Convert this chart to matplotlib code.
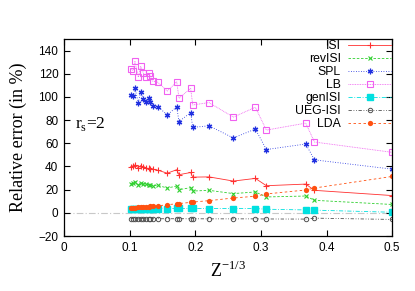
import matplotlib
matplotlib.use('Agg')
import matplotlib.pyplot as plt

# Z^-1/3 positions
x = [0.1017, 0.1056, 0.1082, 0.1133, 0.1169, 0.1209, 0.1245, 0.1300, 0.1315,
     0.1352, 0.1428, 0.1575, 0.1718, 0.1753, 0.1931, 0.1962, 0.2210, 0.2581,
     0.2916, 0.3084, 0.3684, 0.3816, 0.5]

isi = [39.4, 40.0, 41.4, 38.9, 40.8, 39.4, 38.5, 38.3, 38.0, 37.7, 36.8, 34.2,
       37.2, 32.9, 34.8, 30.8, 31.0, 27.4, 29.7, 23.4, 24.8, 19.4, 14.9]
rev_isi = [25.2, 25.5, 26.3, 24.3, 25.5, 25.0, 24.7, 24.1, 24.1, 23.5, 23.7, 21.4,
           23.1, 20.0, 21.7, 18.8, 19.4, 16.6, 18.0, 13.7, 14.5, 10.8, 7.2]
spl = [101.7, 100.8, 107.4, 95.1, 104.2, 98.5, 95.7, 98.9, 95.7, 92.0, 91.7, 84.5,
       91.4, 78.8, 86.5, 73.7, 75.1, 64.6, 72.3, 54.6, 59.4, 45.7, 37.7]
lb = [124.0, 122.8, 130.6, 117.1, 126.5, 120.8, 117.4, 120.8, 117.7, 113.7, 112.8,
      105.1, 113.1, 98.9, 107.4, 93.1, 95.1, 82.6, 91.1, 71.4, 77.4, 61.1, 52.2]
gen_isi = [3.4, 3.4, 3.5, 3.5, 3.5, 3.6, 3.6, 3.6, 3.6, 3.7, 3.7, 3.7, 3.8, 3.8,
           3.8, 3.8, 3.7, 3.7, 3.7, 3.1, 2.5, 2.3, 0.5]
ueg_isi = [-5.0, -5.0, -5.0, -5.1, -5.0, -5.1, -5.0, -5.1, -5.0, -5.1, -5.1, -5.1,
           -5.1, -5.0, -5.2, -5.1, -5.2, -5.2, -5.2, -5.3, -5.4, -4.6, -5.7]
lda = [4.0, 4.2, 4.4, 4.6, 4.8, 5.0, 5.2, 5.4, 5.6, 5.8, 6.0, 7.0, 7.8, 8.0,
       9.0, 9.3, 10.5, 12.8, 14.3, 16.3, 19.7, 21.4, 31.4]

plt.rcParams['font.family'] = ['Liberation Sans', 'DejaVu Sans']

fig = plt.figure(figsize=(4.15, 2.91), dpi=100)
ax = fig.add_axes([0.154, 0.189, 0.791, 0.677])

ax.axhline(0, color='#c8c8c8', lw=0.8, ls=(0, (6, 2, 1, 2)), zorder=0)

ax.plot(x, isi, color='#ff3030', lw=0.6, ls='-', marker='+', ms=4.5, mew=0.8, label='ISI')
ax.plot(x, rev_isi, color='#30d030', lw=0.6, ls=(0, (3, 2)), marker='x', ms=3.5, mew=0.8, label='revISI')
ax.plot(x, spl, color='#2030e0', lw=0.6, ls=(0, (1, 2)), marker=(6, 2, 0), ms=4, mew=0.9, label='SPL')
ax.plot(x, lb, color='#f060f0', lw=0.6, ls=(0, (1, 1)), marker='s', ms=4, mfc='none', mew=0.8, label='LB')
ax.plot(x, gen_isi, color='#00e0e0', lw=0.6, ls=(0, (5, 2, 1, 2)), marker='s', ms=4, label='genISI')
ax.plot(x, ueg_isi, color='#505050', lw=0.6, ls=(0, (4, 2, 1, 2, 1, 2)), marker='o', ms=3.2, mfc='none', mew=0.7, label='UEG-ISI')
ax.plot(x, lda, color='#ff5010', lw=0.6, ls=(0, (3, 3)), marker='o', ms=3.8, mew=0, label='LDA')

ax.set_xlim(0, 0.5)
ax.set_ylim(-20, 150)
ax.set_xticks([0, 0.1, 0.2, 0.3, 0.4, 0.5])
ax.set_xticklabels(['0', '0.1', '0.2', '0.3', '0.4', '0.5'])
ax.set_yticks(range(-20, 141, 20))
ax.tick_params(direction='in', top=True, right=True, length=4, width=0.8, labelsize=8.5, pad=4)
for s in ax.spines.values():
    s.set_linewidth(0.9)

ax.set_xlabel(r'Z$^{\mathregular{-1/3}}$', family='Liberation Serif', fontsize=13, labelpad=5)
ax.set_ylabel('Relative error (in %)', family='Liberation Serif', fontsize=13, labelpad=8)
ax.text(0.017, 77, r'r$_{\mathregular{s}}$=2', family='Liberation Serif', fontsize=12.5, va='center')

ax.legend(loc='upper right', frameon=False, markerfirst=False, fontsize=8.8,
          handlelength=3.5, labelspacing=0.08, handletextpad=0.6,
          borderaxespad=0.1, borderpad=0.0)

fig.savefig('out.png', dpi=100)
